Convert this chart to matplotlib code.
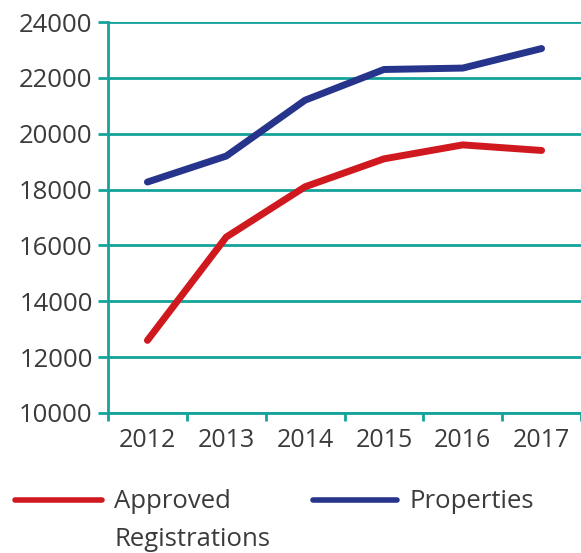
import matplotlib
matplotlib.use('Agg')
from matplotlib import pyplot as plt
from matplotlib.lines import Line2D

years = ['2012', '2013', '2014', '2015', '2016', '2017']
approved = [12600, 16300, 18100, 19100, 19600, 19400]
properties = [18270, 19200, 21200, 22300, 22350, 23050]
y_ticks = [10000, 12000, 14000, 16000, 18000, 20000, 22000, 24000]

TEAL = '#14a39a'
RED = '#d0181f'
BLUE = '#27348b'
TEXT = '#3b3b3b'

plt.rcParams['font.family'] = ['Open Sans', 'DejaVu Sans']

fig = plt.figure(figsize=(5.81, 5.53), dpi=100)
ax = fig.add_axes([108 / 581, 1 - 413 / 553, 1 - 108 / 581, (413 - 22) / 553])

x = list(range(len(years)))
ax.plot(x, approved, color=RED, lw=5, solid_capstyle='round', solid_joinstyle='round', zorder=3)
ax.plot(x, properties, color=BLUE, lw=5, solid_capstyle='round', solid_joinstyle='round', zorder=3)

ax.set_xlim(-0.5, 5.5)
ax.set_ylim(10000, 24000)
ax.set_yticks(y_ticks)
ax.set_yticklabels([str(v) for v in y_ticks])
ax.yaxis.grid(True, color=TEAL, lw=2)
ax.set_axisbelow(True)

# labels at category centres, tick marks at boundaries
ax.set_xticks(x)
ax.set_xticklabels(years)
ax.set_xticks([i + 0.5 for i in range(-1, len(years))], minor=True)
ax.tick_params(axis='x', which='major', length=0, pad=11, labelsize=18, labelcolor=TEXT)
ax.tick_params(axis='x', which='minor', length=6, width=2, color=TEAL)
ax.tick_params(axis='y', length=7, width=2, color=TEAL, pad=4, labelsize=18.5, labelcolor=TEXT)

for side in ['top', 'right']:
    ax.spines[side].set_visible(False)
for side in ['left', 'bottom']:
    ax.spines[side].set_color(TEAL)
    ax.spines[side].set_linewidth(2)

# legend drawn by hand so the handle sits on the first text line
ly = 1 - 500 / 553
fig.add_artist(Line2D([15 / 581, 102 / 581], [ly, ly], color=RED, lw=4,
                      solid_capstyle='round', transform=fig.transFigure))
fig.add_artist(Line2D([313 / 581, 397 / 581], [ly, ly], color=BLUE, lw=4,
                      solid_capstyle='round', transform=fig.transFigure))
fig.text(114 / 581, 1 - 502 / 553, 'Approved', fontsize=18.5, color=TEXT, va='center')
fig.text(114 / 581, 1 - 540 / 553, 'Registrations', fontsize=18.5, color=TEXT, va='center')
fig.text(410 / 581, 1 - 502 / 553, 'Properties', fontsize=18.5, color=TEXT, va='center')

fig.savefig('out.png', dpi=100)
